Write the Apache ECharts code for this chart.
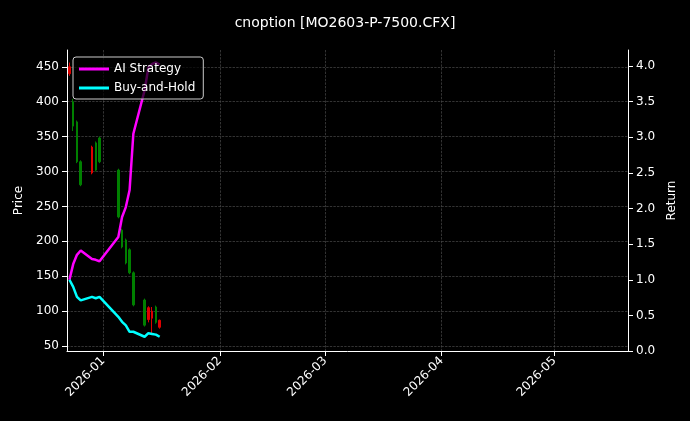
<!DOCTYPE html>
<html><head><meta charset="utf-8">
<script src="https://cdn.jsdelivr.net/npm/echarts@6/dist/echarts.min.js"></script>
<style>html,body{margin:0;background:#000}#c{width:690px;height:421px}</style>
</head><body><div id="c"></div>
<script>
const dates = ['2025-12-23','2025-12-24','2025-12-25','2025-12-26','2025-12-29','2025-12-30','2025-12-31','2026-01-05','2026-01-06','2026-01-07','2026-01-08','2026-01-09','2026-01-12','2026-01-13','2026-01-14','2026-01-15','2026-01-16'];
// [open, close, low, high]
const ohlc = [
 [440,450,437,456],[400,365,358,404],[371,314,312,373],[314,281,279,316],
 [298,335,296,337],[341,302,300,343],[348,314,312,350],
 [302,235,233,304],[216,192,190,218],[202,169,167,204],[188,155,153,190],[155,109,107,157],
 [116,80,78,118],[88,105,84,107],[90,100,66,106],[106,84,82,108],[77,87,75,88]
];
const aiReturn = [1.0,1.22,1.35,1.41,1.29,1.28,1.26,1.60,1.88,2.02,2.26,3.05,3.66,3.98,4.03,4.05,4.02];
const holdReturn = [1.0,0.9,0.76,0.71,0.76,0.74,0.76,0.48,0.41,0.36,0.27,0.27,0.20,0.25,0.24,0.23,0.20];
const priceTicks = [50,100,150,200,250,300,350,400,450];
const returnTicks = [0,0.5,1,1.5,2,2.5,3,3.5,4];
const monthTicks = ['2026-01-01','2026-02-01','2026-03-01','2026-04-01','2026-05-01'];

const ts = d => new Date(d + 'T00:00:00Z').getTime();
const txt = {color:'#fff', fontSize:12, fontFamily:'DejaVu Sans'};
const split = {show:true, lineStyle:{color:'#555', type:'dashed', width:0.6}};
const chart = echarts.init(document.getElementById('c'));
chart.setOption({
  backgroundColor:'#000',
  animation:false,
  title:{text:'cnoption [MO2603-P-7500.CFX]', left:'center', top:11, textStyle:{color:'#fff', fontSize:14, fontWeight:'normal', fontFamily:'DejaVu Sans'}},
  legend:{z:10, left:73, top:57, orient:'vertical', itemGap:7, itemWidth:30, itemHeight:3, icon:'rect', backgroundColor:'rgba(0,0,0,0.7)', borderColor:'#ccc', borderWidth:1, borderRadius:3, padding:[6,8,5,6],
    textStyle:{color:'#fff', fontSize:12, fontFamily:'DejaVu Sans'}, data:['AI Strategy','Buy-and-Hold']},
  grid:{left:67, right:62, top:50, bottom:70},
  xAxis:{type:'value', min:ts('2025-12-22')+8.4*3600e3, max:ts('2026-05-20')+14*3600e3, scale:true,
    axisLine:{lineStyle:{color:'#fff'}}, splitLine:split,
    axisTick:{customValues:monthTicks.map(ts), lineStyle:{color:'#fff'}},
    axisLabel:{customValues:monthTicks.map(ts), rotate:45, ...txt, formatter:v=>{const d=new Date(v);return d.getUTCFullYear()+'-'+String(d.getUTCMonth()+1).padStart(2,'0');}}},
  yAxis:[
    {type:'value', min:43, max:474, name:'Price', nameLocation:'middle', nameGap:42, nameTextStyle:txt,
     axisLine:{show:true, lineStyle:{color:'#fff'}}, splitLine:split,
     axisTick:{show:true, customValues:priceTicks}, axisLabel:{customValues:priceTicks, ...txt}},
    {type:'value', min:0, max:4.225, name:'Return', nameLocation:'middle', nameGap:38, nameTextStyle:txt,
     axisLine:{show:true, lineStyle:{color:'#fff'}}, splitLine:{show:false},
     axisTick:{show:true, customValues:returnTicks}, axisLabel:{customValues:returnTicks, ...txt, formatter:v=>v.toFixed(1)}}
  ],
  series:[
    {type:'candlestick', barWidth:2, data:dates.map((d,i)=>[ts(d),...ohlc[i]]),
     itemStyle:{color:'#e00000', color0:'#008000', borderColor:'#e00000', borderColor0:'#008000', borderWidth:1}},
    {name:'AI Strategy', type:'line', yAxisIndex:1, showSymbol:false, data:dates.map((d,i)=>[ts(d),aiReturn[i]]), lineStyle:{color:'#ff00ff', width:2.5}, itemStyle:{color:'#ff00ff'}},
    {name:'Buy-and-Hold', type:'line', yAxisIndex:1, showSymbol:false, data:dates.map((d,i)=>[ts(d),holdReturn[i]]), lineStyle:{color:'#00ffff', width:2.5}, itemStyle:{color:'#00ffff'}}
  ]
});
</script></body></html>
